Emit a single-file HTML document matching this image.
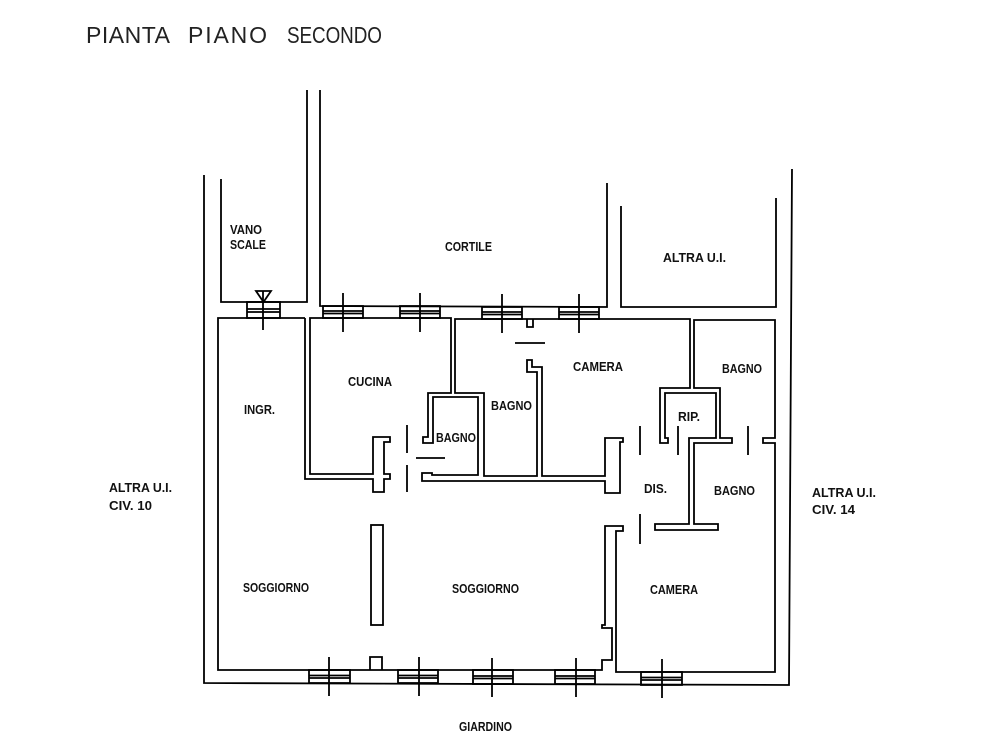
<!DOCTYPE html>
<html>
<head>
<meta charset="utf-8">
<style>
  html, body { margin: 0; padding: 0; background: #fff; }
  body { width: 1000px; height: 749px; overflow: hidden; }
  svg { display: block; }
  .lbl { font-family: "Liberation Sans", sans-serif; font-weight: bold; font-size: 13px; fill: #111; }
  .title { font-family: "Liberation Sans", sans-serif; font-weight: normal; font-size: 23px; fill: #222; }
</style>
</head>
<body>
<svg width="1000" height="749" viewBox="0 0 1000 749" xmlns="http://www.w3.org/2000/svg">
  <rect x="0" y="0" width="1000" height="749" fill="#fff"/>
  <text class="title" x="86" y="43" textLength="84" lengthAdjust="spacing">PIANTA</text>
  <text class="title" x="188" y="43" textLength="79" lengthAdjust="spacing">PIANO</text>
  <g transform="translate(287,43) scale(0.82,1)">
    <text class="title" x="0" y="0" textLength="115.8" lengthAdjust="spacing">SECONDO</text>
  </g>

  <g fill="none" stroke="#000" stroke-width="1.8" stroke-linejoin="miter">
    <!-- outer walls -->
    <polyline points="204,175 204,683 789,685 792,169"/>
    <!-- vano scale -->
    <polyline points="221,179 221,302 307,302 307,90"/>
    <!-- cortile -->
    <polyline points="320,90 320,306 607,307 607,183"/>
    <!-- altra u.i. top -->
    <polyline points="621,206 621,307 776,307 776,198"/>

    <!-- main interior contour -->
    <polyline points="305,318 218,318 218,670 602,670 602,660 612,660 612,628 602,628 602,625 605,625 605,526 623,526 623,531 616,531 616,672 775,672 775,443 763,443 763,438 775,438 775,320 694,320 694,388 720,388 720,438 732,438 732,443 694,443 694,524 718,524 718,530 655,530 655,524 689,524 689,438 716,438 716,393 665,393 665,438 668,438 668,443 660,443 660,388 690,388 690,319 455,319 455,393 484,393 484,476 537,476 537,372 527,372 527,360 532,360 532,367 542,367 542,476 605,476 605,438 623,438 623,442 620,442 620,493 605,493 605,481 422,481 422,473 432,473 432,475 478,475 478,397 433,397 433,443 423,443 423,437 428,437 428,393 451,393 451,318 310,318 310,474 373,474 373,437 390,437 390,442 384,442 384,474 390,474 390,479 384,479 384,492 373,492 373,479 305,479 305,318"/>

    <!-- small notch at top camera -->
    <polyline points="527,319 527,327 533,327 533,319"/>
    <!-- bump on bottom wall -->
    <polyline points="370,670 370,657 382,657 382,670"/>
    <!-- soggiorno pillar -->
    <rect x="371" y="525" width="12" height="100"/>

    <!-- door leaves -->
    <line x1="407" y1="425" x2="407" y2="453"/>
    <line x1="407" y1="465" x2="407" y2="492"/>
    <line x1="416" y1="458" x2="445" y2="458"/>
    <line x1="515" y1="343" x2="545" y2="343"/>
    <line x1="640" y1="426" x2="640" y2="455"/>
    <line x1="678" y1="426" x2="678" y2="455"/>
    <line x1="748" y1="426" x2="748" y2="455"/>
    <line x1="640" y1="514" x2="640" y2="544"/>

    <!-- vano scale window -->
    <rect x="247" y="302" width="33" height="16"/>
    <line x1="247" y1="309" x2="280" y2="309"/>
    <line x1="247" y1="312" x2="280" y2="312"/>
    <line x1="263" y1="291" x2="263" y2="330"/>
    <polygon points="256,291 271,291 263.5,302"/>

    <!-- top windows -->
    <g>
      <rect x="323" y="306" width="40" height="12"/>
      <line x1="323" y1="311" x2="363" y2="311"/><line x1="323" y1="313.5" x2="363" y2="313.5"/>
      <line x1="343" y1="293" x2="343" y2="332"/>

      <rect x="400" y="306" width="40" height="12"/>
      <line x1="400" y1="311" x2="440" y2="311"/><line x1="400" y1="313.5" x2="440" y2="313.5"/>
      <line x1="420" y1="293" x2="420" y2="332"/>

      <rect x="482" y="307" width="40" height="12"/>
      <line x1="482" y1="312" x2="522" y2="312"/><line x1="482" y1="314.5" x2="522" y2="314.5"/>
      <line x1="502" y1="294" x2="502" y2="333"/>

      <rect x="559" y="307" width="40" height="12"/>
      <line x1="559" y1="312" x2="599" y2="312"/><line x1="559" y1="314.5" x2="599" y2="314.5"/>
      <line x1="579" y1="294" x2="579" y2="333"/>
    </g>

    <!-- bottom windows -->
    <g>
      <rect x="309" y="670" width="41" height="13"/>
      <line x1="309" y1="675.5" x2="350" y2="675.5"/><line x1="309" y1="678" x2="350" y2="678"/>
      <line x1="329" y1="657" x2="329" y2="696"/>

      <rect x="398" y="670" width="40" height="13"/>
      <line x1="398" y1="675.5" x2="438" y2="675.5"/><line x1="398" y1="678" x2="438" y2="678"/>
      <line x1="419" y1="657" x2="419" y2="696"/>

      <rect x="473" y="670" width="40" height="14"/>
      <line x1="473" y1="676" x2="513" y2="676"/><line x1="473" y1="678.5" x2="513" y2="678.5"/>
      <line x1="492" y1="658" x2="492" y2="697"/>

      <rect x="555" y="670" width="40" height="14"/>
      <line x1="555" y1="676" x2="595" y2="676"/><line x1="555" y1="678.5" x2="595" y2="678.5"/>
      <line x1="576" y1="658" x2="576" y2="697"/>

      <rect x="641" y="672" width="41" height="13"/>
      <line x1="641" y1="677.5" x2="682" y2="677.5"/><line x1="641" y1="680" x2="682" y2="680"/>
      <line x1="662" y1="659" x2="662" y2="698"/>
    </g>
  </g>

  <!-- labels -->
  <text class="lbl" x="230" y="234" textLength="32" lengthAdjust="spacingAndGlyphs">VANO</text>
  <text class="lbl" x="230" y="249" textLength="36" lengthAdjust="spacingAndGlyphs">SCALE</text>
  <text class="lbl" x="445" y="251" textLength="47" lengthAdjust="spacingAndGlyphs">CORTILE</text>
  <text class="lbl" x="663" y="262" textLength="63" lengthAdjust="spacingAndGlyphs">ALTRA U.I.</text>
  <text class="lbl" x="348" y="386" textLength="44" lengthAdjust="spacingAndGlyphs">CUCINA</text>
  <text class="lbl" x="244" y="414" textLength="31" lengthAdjust="spacingAndGlyphs">INGR.</text>
  <text class="lbl" x="436" y="442" textLength="40" lengthAdjust="spacingAndGlyphs">BAGNO</text>
  <text class="lbl" x="491" y="410" textLength="41" lengthAdjust="spacingAndGlyphs">BAGNO</text>
  <text class="lbl" x="573" y="371" textLength="50" lengthAdjust="spacingAndGlyphs">CAMERA</text>
  <text class="lbl" x="678" y="421" textLength="22" lengthAdjust="spacingAndGlyphs">RIP.</text>
  <text class="lbl" x="722" y="373" textLength="40" lengthAdjust="spacingAndGlyphs">BAGNO</text>
  <text class="lbl" x="644" y="493" textLength="23" lengthAdjust="spacingAndGlyphs">DIS.</text>
  <text class="lbl" x="714" y="495" textLength="41" lengthAdjust="spacingAndGlyphs">BAGNO</text>
  <text class="lbl" x="243" y="592" textLength="66" lengthAdjust="spacingAndGlyphs">SOGGIORNO</text>
  <text class="lbl" x="452" y="593" textLength="67" lengthAdjust="spacingAndGlyphs">SOGGIORNO</text>
  <text class="lbl" x="650" y="594" textLength="48" lengthAdjust="spacingAndGlyphs">CAMERA</text>
  <text class="lbl" x="459" y="731" textLength="53" lengthAdjust="spacingAndGlyphs">GIARDINO</text>
  <text class="lbl" x="109" y="492" textLength="63" lengthAdjust="spacingAndGlyphs">ALTRA U.I.</text>
  <text class="lbl" x="109" y="510" textLength="43" lengthAdjust="spacingAndGlyphs">CIV. 10</text>
  <text class="lbl" x="812" y="497" textLength="64" lengthAdjust="spacingAndGlyphs">ALTRA U.I.</text>
  <text class="lbl" x="812" y="514" textLength="43" lengthAdjust="spacingAndGlyphs">CIV. 14</text>
</svg>
</body>
</html>
